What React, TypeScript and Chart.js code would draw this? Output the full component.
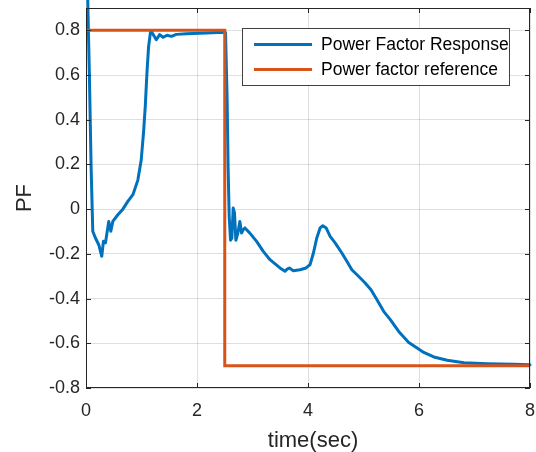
import React, { useEffect, useRef } from "react";
import { Chart, registerables } from "chart.js";

Chart.register(...registerables);

// ---- data ----
const responseTime = [
  0, 0.031, 0.061, 0.092, 0.122, 0.17, 0.23, 0.284, 0.314, 0.35, 0.41, 0.447, 0.483,
  0.574, 0.664, 0.754, 0.845, 0.934, 0.995, 1.037, 1.068, 1.098, 1.128, 1.164,
  1.18, 1.194, 1.267, 1.327, 1.387, 1.46, 1.538, 1.628, 1.81, 2.17, 2.47, 2.514,
  2.543, 2.56, 2.58, 2.604, 2.628, 2.652, 2.676, 2.7, 2.736, 2.772, 2.803, 2.832,
  2.863, 2.953, 3.074, 3.194, 3.315, 3.495, 3.586, 3.625, 3.664, 3.736, 3.857, 3.965,
  4.037, 4.098, 4.158, 4.218, 4.267, 4.327, 4.399, 4.489, 4.61, 4.7, 4.79, 4.91, 5.03,
  5.135, 5.243, 5.363, 5.483, 5.634, 5.815, 5.966, 6.086, 6.267, 6.508, 6.81, 7.23,
  7.71, 8.0,
];
const responsePF = [
  1.28, 0.937, 0.6, 0.19, -0.099, -0.129, -0.159, -0.211, -0.144, -0.151, -0.055,
  -0.099, -0.055, -0.025, 0.0, 0.035, 0.065, 0.13, 0.22, 0.345, 0.46,
  0.609, 0.728, 0.796, 0.798, 0.788, 0.758, 0.781, 0.769, 0.778, 0.773, 0.782, 0.785,
  0.788, 0.791, 0.79, 0.49, 0.19, -0.032, -0.139, -0.13, 0.005, -0.017, -0.139,
  -0.107, -0.055, -0.107, -0.092, -0.084, -0.107, -0.144, -0.189, -0.226, -0.263,
  -0.278, -0.268, -0.263, -0.275, -0.271, -0.263, -0.248, -0.196, -0.129, -0.084,
  -0.074, -0.084, -0.122, -0.151, -0.196, -0.233, -0.271, -0.3, -0.33, -0.36, -0.405,
  -0.457, -0.494, -0.547, -0.596, -0.621, -0.641, -0.661, -0.676, -0.687, -0.691,
  -0.694, -0.696,
];
const referenceTime = [0, 2.5, 2.5, 8];
const referencePF = [0.8, 0.8, -0.7, -0.7];

const xTicks = [0, 2, 4, 6, 8];
const yTicks = [-0.8, -0.6, -0.4, -0.2, 0, 0.2, 0.4, 0.6, 0.8];
const seriesLabels = ["Power Factor Response", "Power factor reference"];
const xTitle = "time(sec)";
const yTitle = "PF";

const FONT = "'Liberation Sans', Arial, Helvetica, sans-serif";
const AXIS_COLOR = "#262626";
const BLUE = "#0072BD";
const RED = "#D95319";

const zeroPadding = (s: any) => {
  s.paddingLeft = 0;
  s.paddingRight = 0;
  s.paddingTop = 0;
  s.paddingBottom = 0;
};

const boxPlugin = {
  id: "matlabBox",
  afterDatasetsDraw(chart: any) {
    const { ctx, chartArea, scales } = chart;
    const { left, right, top, bottom } = chartArea;
    const xs = scales.x;
    const ys = scales.y;
    ctx.save();
    ctx.strokeStyle = AXIS_COLOR;
    ctx.lineWidth = 1;
    ctx.strokeRect(left + 0.5, top + 0.5, right - left - 1, bottom - top - 1);
    const tl = 5;
    ctx.beginPath();
    xTicks.forEach((v) => {
      const px = Math.round(xs.getPixelForValue(v)) + 0.5;
      ctx.moveTo(px, bottom);
      ctx.lineTo(px, bottom - tl);
      ctx.moveTo(px, top);
      ctx.lineTo(px, top + tl);
    });
    yTicks.forEach((v) => {
      const py = Math.round(ys.getPixelForValue(v)) + 0.5;
      ctx.moveTo(left, py);
      ctx.lineTo(left + tl, py);
      ctx.moveTo(right, py);
      ctx.lineTo(right - tl, py);
    });
    ctx.stroke();

    // x-axis title (MATLAB places it slightly right of centre)
    ctx.fillStyle = AXIS_COLOR;
    ctx.font = `22px ${FONT}`;
    ctx.textAlign = "center";
    ctx.textBaseline = "middle";
    ctx.fillText(xTitle, (left + right) / 2 + 5, bottom + 53);

    // legend
    const lw = 267;
    const lh = 57;
    const lx = Math.round(right - 21 - lw) + 0.5;
    const ly = Math.round(top + 20) + 0.5;
    ctx.fillStyle = "#ffffff";
    ctx.fillRect(lx, ly, lw, lh);
    ctx.strokeStyle = "#404040";
    ctx.lineWidth = 1;
    ctx.strokeRect(lx, ly, lw, lh);
    const colors = [BLUE, RED];
    const rows = [16, 41];
    ctx.font = `17.5px ${FONT}`;
    ctx.textBaseline = "middle";
    ctx.textAlign = "left";
    seriesLabels.forEach((label, i) => {
      const yy = ly + rows[i];
      ctx.strokeStyle = colors[i];
      ctx.lineWidth = 3;
      ctx.beginPath();
      ctx.moveTo(lx + 11.5, yy);
      ctx.lineTo(lx + 69.5, yy);
      ctx.stroke();
      ctx.fillStyle = "#000000";
      ctx.fillText(label, lx + 78.5, yy + 1);
    });
    ctx.restore();
  },
};

export default function App() {
  const ref = useRef<HTMLCanvasElement | null>(null);
  useEffect(() => {
    document.body.style.margin = "0";
    const canvas = ref.current;
    if (!canvas) return;
    const chart = new Chart(canvas, {
      type: "line",
      data: {
        datasets: [
          {
            label: seriesLabels[0],
            data: responseTime.map((t, i) => ({ x: t, y: responsePF[i] })),
            borderColor: BLUE,
            borderWidth: 3,
            borderJoinStyle: "round",
            borderCapStyle: "round",
            pointRadius: 0,
            tension: 0,
            clip: false as any,
            order: 2,
          },
          {
            label: seriesLabels[1],
            data: referenceTime.map((t, i) => ({ x: t, y: referencePF[i] })),
            borderColor: RED,
            borderWidth: 3,
            pointRadius: 0,
            tension: 0,
            order: 1,
          },
        ],
      },
      options: {
        responsive: false,
        maintainAspectRatio: false,
        animation: false,
        layout: { padding: { top: 8, right: 6, left: 0, bottom: 0 } },
        plugins: { legend: { display: false }, tooltip: { enabled: false } },
        scales: {
          x: {
            type: "linear",
            min: 0,
            max: 8,
            afterBuildTicks: (s: any) => {
              s.ticks = xTicks.map((v) => ({ value: v }));
            },
            afterFit: (s: any) => {
              s.height = 64;
              zeroPadding(s);
            },
            grid: { color: "rgba(38,38,38,0.15)", drawTicks: false, lineWidth: 1 },
            border: { display: false },
            ticks: {
              font: { size: 18, family: FONT },
              color: AXIS_COLOR,
              padding: 12,
              maxRotation: 0,
              autoSkip: false,
              callback: (v: any) => String(v),
            },
            title: { display: false, text: xTitle },
          },
          y: {
            type: "linear",
            min: -0.8,
            max: 0.9,
            afterBuildTicks: (s: any) => {
              s.ticks = yTicks.map((v) => ({ value: v }));
            },
            afterFit: (s: any) => {
              s.width = 86;
              zeroPadding(s);
            },
            grid: { color: "rgba(38,38,38,0.15)", drawTicks: false, lineWidth: 1 },
            border: { display: false },
            ticks: {
              font: { size: 18, family: FONT },
              color: AXIS_COLOR,
              padding: 6,
              autoSkip: false,
              callback: (v: any) => {
                const n = Math.round(Number(v) * 10) / 10;
                return n === 0 ? "0" : String(n);
              },
            },
            title: {
              display: true,
              text: yTitle,
              color: AXIS_COLOR,
              font: { size: 22, family: FONT, lineHeight: 1 },
              padding: { top: 14, bottom: 0 },
            },
          },
        },
      },
      plugins: [boxPlugin],
    });
    return () => chart.destroy();
  }, []);
  return <canvas ref={ref} width={536} height={452} style={{ display: "block" }} />;
}
